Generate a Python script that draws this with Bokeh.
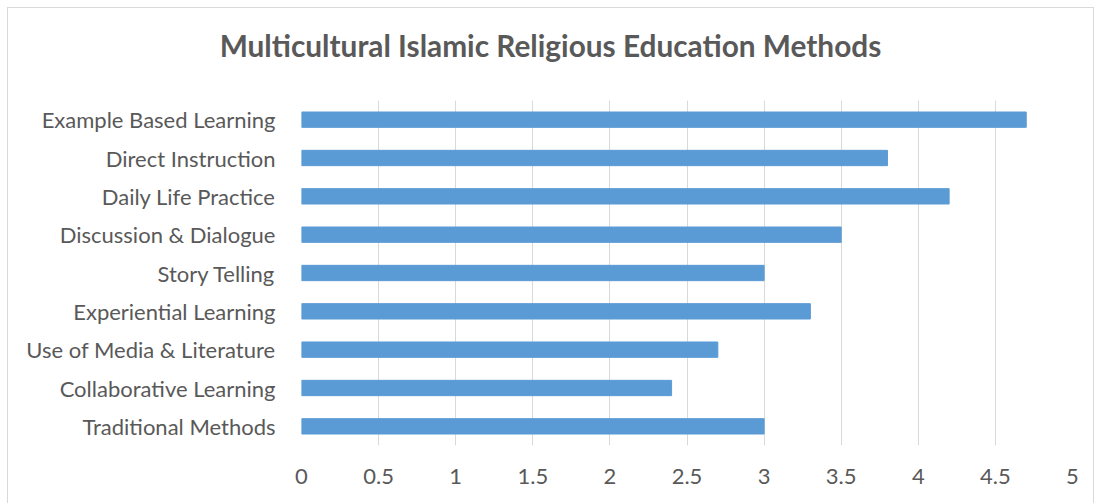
from bokeh.plotting import figure
from bokeh.models import FactorRange, Range1d, FixedTicker, Div
from bokeh.layouts import column
from bokeh.embed import file_html
from bokeh.resources import INLINE

methods = ["Example Based Learning", "Direct Instruction", "Daily Life Practice",
           "Discussion & Dialogue", "Story Telling", "Experiential Learning",
           "Use of Media & Literature", "Collaborative Learning", "Traditional Methods"]
scores = [4.7, 3.8, 4.2, 3.5, 3.0, 3.3, 2.7, 2.4, 3.0]
ticks = [0, 0.5, 1, 1.5, 2, 2.5, 3, 3.5, 4, 4.5, 5]
tick_labels = ["0", "0.5", "1", "1.5", "2", "2.5", "3", "3.5", "4", "4.5", "5"]
title_text = "Multicultural Islamic Religious Education Methods"

FONT = "Lato"
GREY = "#595959"

title = Div(text=f'<div style="width:1085px;text-align:center;font-family:Lato;'
                 f'font-weight:bold;font-size:29.8px;line-height:36px;color:{GREY};'
                 f'padding-top:20px;white-space:nowrap">{title_text}</div>',
            width=1085, height=84, margin=0)

p = figure(width=1085, height=411, output_backend="svg", toolbar_location=None,
           y_range=FactorRange(factors=list(reversed(methods))),
           x_range=Range1d(0, 5), margin=0,
           min_border_left=293, min_border_right=21, min_border_top=8, min_border_bottom=58)

p.hbar(y=methods, right=scores, left=0, height=0.4, color="#5B9BD5")

p.outline_line_color = None
p.xgrid.grid_line_color = "#d9d9d9"
p.ygrid.grid_line_color = None
p.xaxis.ticker = FixedTicker(ticks=ticks)
p.xaxis.major_label_overrides = {t: l for t, l in zip(ticks, tick_labels)}
for ax in (p.xaxis, p.yaxis):
    ax.axis_line_color = None
    ax.major_tick_line_color = None
    ax.minor_tick_line_color = None
    ax.major_label_text_font = FONT
    ax.major_label_text_font_size = "22px"
    ax.major_label_text_color = GREY
p.yaxis.major_label_standoff = 20
p.xaxis.major_label_standoff = 17

layout = column(title, p, spacing=0)
layout.styles = {"border": "1px solid #d9d9d9", "margin-left": "7px", "margin-top": "7px"}

open("out.html", "w").write(file_html(layout, INLINE))
